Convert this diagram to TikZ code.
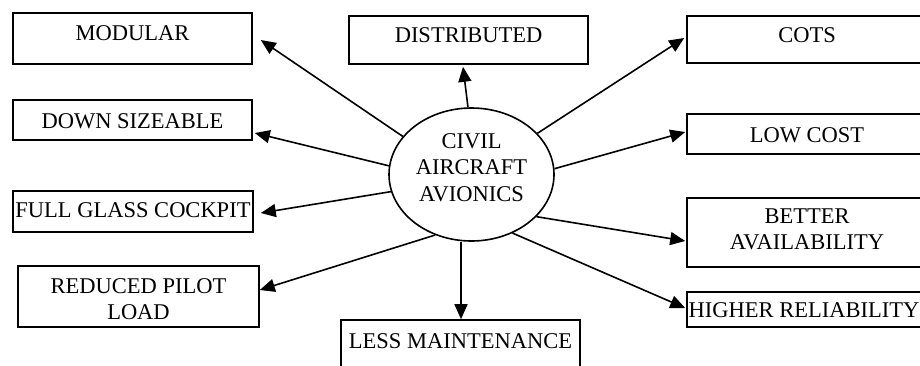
\documentclass[tikz,border=0pt]{standalone}
\usepackage{fontspec}
\setmainfont{Liberation Serif}
\usetikzlibrary{arrows.meta,shapes.geometric,calc}
% centred multi-line label whose baseline is that of its first line
\newcommand\mlines[1]{\begin{tabular}[t]{@{}c@{}}#1\end{tabular}}
\begin{document}
\begin{tikzpicture}[x=1pt,y=-1pt,
  every node/.style={font=\fontsize{22.5pt}{26.5pt}\selectfont, inner sep=0pt, text height=16pt},
  box/.style={draw, line width=1.6pt, rectangle},
  hubshape/.style={draw, line width=1.6pt, ellipse, minimum width=165pt, minimum height=133pt},
  arr/.style={line width=1.6pt, -{Triangle[length=15pt,width=13pt]}}]
\useasboundingbox (0,0) rectangle (920,365);
\clip (0,0) rectangle (920,365);
\fill[white] (0,0) rectangle (920,365);

% centre
\node[hubshape, text depth=69pt] (hub) at (471.5,174.5) {\mlines{CIVIL\\AIRCRAFT\\AVIONICS}};

% left column
\node[box, minimum width=239pt, minimum height=51pt, text depth=12pt] (modular) at (132.5,38.5) {MODULAR};
\node[box, minimum width=239pt, minimum height=40pt, text depth=0pt] (downsize) at (132.5,120) {DOWN SIZEABLE};
\node[box, minimum width=240pt, minimum height=41pt, text depth=5pt] (glass) at (133,211.5) {FULL GLASS COCKPIT};
\node[box, minimum width=241pt, minimum height=61pt, text depth=23pt] (pilot) at (138.5,296.5) {\mlines{REDUCED PILOT\\LOAD}};

% top and bottom
\node[box, minimum width=239pt, minimum height=48pt, text depth=12pt] (distributed) at (468.5,40) {DISTRIBUTED};
\node[box, minimum width=239pt, minimum height=48pt, text depth=8pt] (maint) at (460.5,344) {LESS MAINTENANCE};

% right column
\node[box, minimum width=240pt, minimum height=47pt, text depth=11pt] (cots) at (807,39.5) {COTS};
\node[box, minimum width=240pt, minimum height=40pt, text depth=0pt] (lowcost) at (807,134) {LOW COST};
\node[box, minimum width=240pt, minimum height=69pt, text depth=35pt] (avail) at (807,232.5) {\mlines{BETTER\\AVAILABILITY}};
\node[box, minimum width=240pt, minimum height=35pt, text depth=0pt] (reliab) at (807,309.5) {HIGHER RELIABILITY\hspace*{6pt}};

% connectors
\draw[arr] (hub.151.6) -- ($(modular.east)+(8,1.5)$);
\draw[arr] (hub.174.8) -- ($(downsize.east)+(2,13)$);
\draw[arr] (hub.192) -- ($(glass.east)+(7,1.5)$);
\draw[arr] (hub.239.7) -- ($(pilot.east)+(0,-6.5)$);
\draw[arr] (hub.93) -- ($(distributed.south)+(-5.5,2)$);
\draw[arr] ($(hub.south)+(-10.5,0)$) -- ($(maint.north)+(0.5,0)$);
\draw[arr] (hub.32.6) -- ($(cots.west)+(-2,-1.5)$);
\draw[arr] (hub.4.5) -- ($(lowcost.west)+(-1,-2)$);
\draw[arr] (hub.327.8) -- ($(avail.west)+(-1,8.5)$);
\draw[arr] (hub.305.4) -- ($(reliab.west)+(-1,-1.5)$);
\end{tikzpicture}
\end{document}
